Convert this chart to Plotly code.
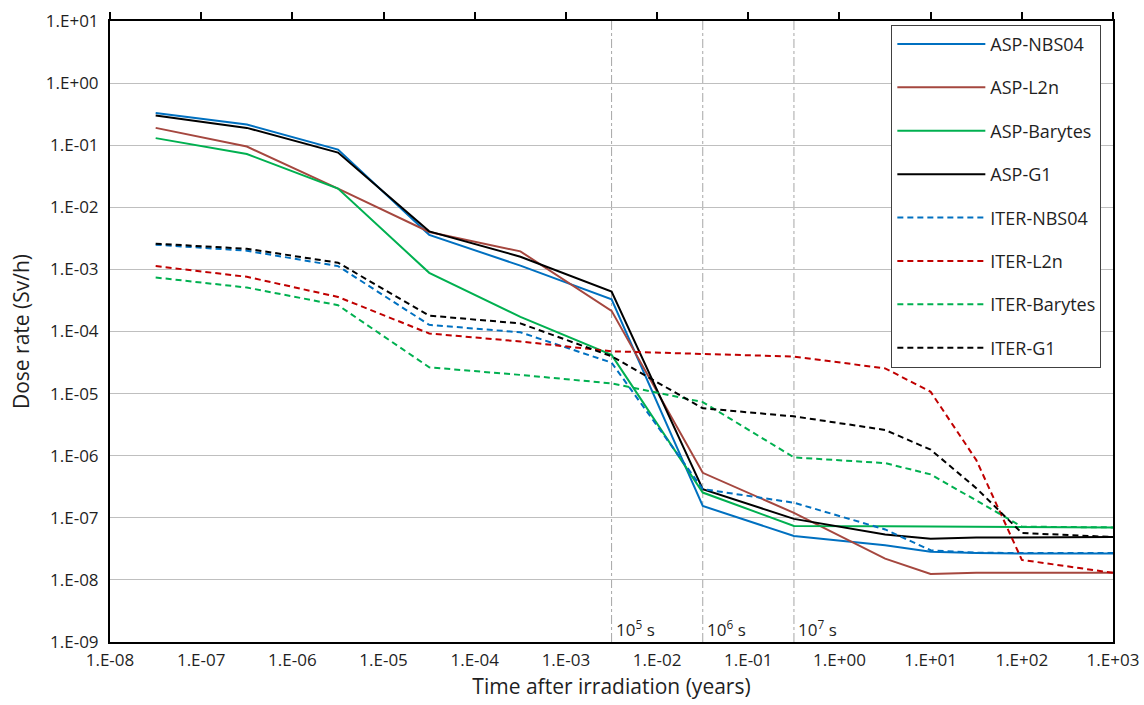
import math
import plotly.graph_objects as go

SEC_PER_YEAR = 3.156e7

# Time points (years): 1 s ... 1e8 s, 10 y, 1e9 s, 100 y, 1000 y
times_years = [1 / SEC_PER_YEAR, 1e1 / SEC_PER_YEAR, 1e2 / SEC_PER_YEAR, 1e3 / SEC_PER_YEAR,
               1e4 / SEC_PER_YEAR, 1e5 / SEC_PER_YEAR, 1e6 / SEC_PER_YEAR, 1e7 / SEC_PER_YEAR,
               1e8 / SEC_PER_YEAR, 10.0, 1e9 / SEC_PER_YEAR, 100.0, 1000.0]

asp_nbs04 = [0.33, 0.215, 0.085, 3.6e-3, 1.15e-3, 3.3e-4, 1.55e-7, 5.1e-8, 3.6e-8, 2.85e-8, 2.7e-8, 2.65e-8, 2.65e-8]
asp_l2n = [0.19, 0.095, 0.02, 4.0e-3, 1.95e-3, 2.15e-4, 5.3e-7, 1.2e-7, 2.2e-8, 1.25e-8, 1.3e-8, 1.3e-8, 1.3e-8]
asp_barytes = [0.13, 0.072, 0.02, 8.8e-4, 1.72e-4, 4.2e-5, 2.55e-7, 7.4e-8, 7.3e-8, 7.2e-8, 7.1e-8, 7.0e-8, 7.0e-8]
asp_g1 = [0.30, 0.19, 0.076, 4.1e-3, 1.6e-3, 4.4e-4, 2.9e-7, 9.6e-8, 5.4e-8, 4.6e-8, 4.8e-8, 4.85e-8, 4.9e-8]
iter_nbs04 = [2.5e-3, 2.0e-3, 1.13e-3, 1.28e-4, 9.7e-5, 3.15e-5, 2.9e-7, 1.75e-7, 6.5e-8, 3.0e-8, 2.75e-8, 2.7e-8, 2.7e-8]
iter_l2n = [1.13e-3, 7.6e-4, 3.6e-4, 9.3e-5, 6.9e-5, 4.8e-5, 4.35e-5, 3.95e-5, 2.55e-5, 1.07e-5, 8.5e-7, 2.1e-8, 1.3e-8]
iter_barytes = [7.4e-4, 5.1e-4, 2.65e-4, 2.65e-5, 2.0e-5, 1.46e-5, 7.3e-6, 9.4e-7, 7.6e-7, 5.0e-7, 1.9e-7, 7.2e-8, 7.0e-8]
iter_g1 = [2.6e-3, 2.15e-3, 1.28e-3, 1.8e-4, 1.35e-4, 4.0e-5, 5.8e-6, 4.3e-6, 2.6e-6, 1.25e-6, 3.0e-7, 5.7e-8, 4.9e-8]

series_names = ["ASP-NBS04", "ASP-L2n", "ASP-Barytes", "ASP-G1",
                "ITER-NBS04", "ITER-L2n", "ITER-Barytes", "ITER-G1"]
series_values = [asp_nbs04, asp_l2n, asp_barytes, asp_g1,
                 iter_nbs04, iter_l2n, iter_barytes, iter_g1]
series_colors = ["#0070C0", "#A5473F", "#00B050", "#000000",
                 "#0070C0", "#C00000", "#00B050", "#000000"]
series_dash = ["solid"] * 4 + ["6px,4px"] * 4

x_tickvals = [1e-8, 1e-7, 1e-6, 1e-5, 1e-4, 1e-3, 1e-2, 1e-1, 1e0, 1e1, 1e2, 1e3]
x_ticktext = ["1.E-08", "1.E-07", "1.E-06", "1.E-05", "1.E-04", "1.E-03",
              "1.E-02", "1.E-01", "1.E+00", "1.E+01", "1.E+02", "1.E+03"]
y_tickvals = [1e-9, 1e-8, 1e-7, 1e-6, 1e-5, 1e-4, 1e-3, 1e-2, 1e-1, 1e0, 1e1]
y_ticktext = ["1.E-09", "1.E-08", "1.E-07", "1.E-06", "1.E-05", "1.E-04",
              "1.E-03", "1.E-02", "1.E-01", "1.E+00", "1.E+01"]

marker_seconds = [1e5, 1e6, 1e7]
marker_labels = ["10<sup>5</sup> s", "10<sup>6</sup> s", "10<sup>7</sup> s"]

FONT = "Open Sans"
TXT = "#1F1F1F"

fig = go.Figure()
for i, (name, vals, col, dash) in enumerate(zip(series_names, series_values, series_colors, series_dash)):
    fig.add_trace(go.Scatter(
        x=times_years, y=vals, name=name, mode="lines",
        line=dict(color=col, width=2, dash=dash),
        legendgroup=f"g{i}",
    ))

# dummy trace so the top axis (ticks only) is drawn
fig.add_trace(go.Scatter(x=[x_tickvals[0], x_tickvals[-1]], y=[None, None], xaxis="x2",
                         showlegend=False, hoverinfo="skip"))

for s, lab in zip(marker_seconds, marker_labels):
    xv = s / SEC_PER_YEAR
    fig.add_shape(type="line", xref="x", yref="paper", x0=xv, x1=xv, y0=0, y1=1,
                  line=dict(color="#A6A6A6", width=1, dash="dashdot"), layer="below")
    fig.add_annotation(x=math.log10(xv), xref="x", y=0, yref="paper", text=lab, showarrow=False,
                       xanchor="left", yanchor="bottom", xshift=2, yshift=-1,
                       font=dict(family=FONT, size=17, color=TXT))

fig.update_layout(
    width=1144, height=705,
    margin=dict(l=110, r=31, t=21, b=63, autoexpand=False),
    paper_bgcolor="white", plot_bgcolor="white",
    font=dict(family=FONT, size=18, color=TXT),
    xaxis=dict(type="log", range=[-8, 3], tickvals=x_tickvals, ticktext=x_ticktext,
               showgrid=False, zeroline=False, showline=True, linecolor="black", linewidth=2,
               ticks="", tickfont=dict(family=FONT, size=17, color=TXT), ticklabelstandoff=2,
               title=dict(text="Time after irradiation (years)", font=dict(family=FONT, size=21, color=TXT),
                          standoff=9)),
    xaxis2=dict(type="log", range=[-8, 3], tickvals=x_tickvals, overlaying="x", side="top",
                showticklabels=False, showgrid=False, zeroline=False, showline=True,
                linecolor="black", linewidth=1.5, ticks="outside", ticklen=7, tickwidth=1.5,
                tickcolor="black"),
    yaxis=dict(type="log", range=[-9, 1], tickvals=y_tickvals, ticktext=y_ticktext,
               showgrid=True, gridcolor="#BFBFBF", gridwidth=1, zeroline=False,
               showline=True, linecolor="black", linewidth=2, mirror=True, ticks="",
               tickfont=dict(family=FONT, size=17, color=TXT), ticklabelstandoff=6,
               title=dict(text="Dose rate (Sv/h)", font=dict(family=FONT, size=21, color=TXT),
                          standoff=10)),
    legend=dict(x=0.779, y=0.994, xanchor="left", yanchor="top",
                bgcolor="white", bordercolor="#404040", borderwidth=1,
                font=dict(family=FONT, size=18, color=TXT),
                tracegroupgap=17, itemwidth=88, traceorder="grouped"),
    showlegend=True,
)

fig.write_html("out.html", config={"displayModeBar": False},
               post_script="document.body.style.margin='0px';")
